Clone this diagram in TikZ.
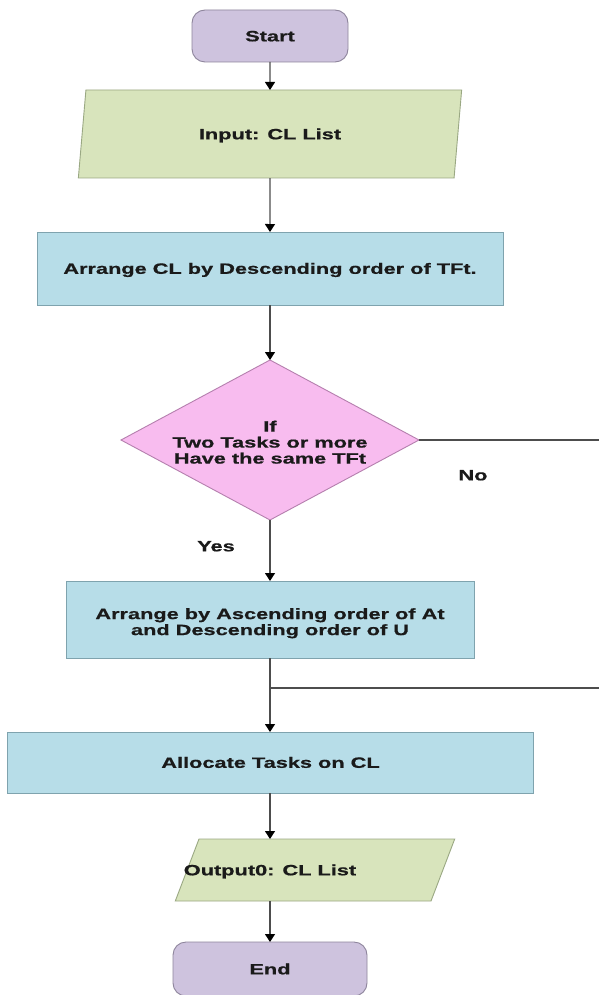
\documentclass[tikz,border=0pt]{standalone}
\usepackage{fontspec}
\setmainfont{Liberation Sans}[BoldFeatures={FakeBold=0.6}]
\usetikzlibrary{shapes.geometric,arrows.meta}

\definecolor{termfill}{HTML}{CEC3DE}
\definecolor{termdraw}{HTML}{8E859C}
\definecolor{iofill}{HTML}{D8E4BC}
\definecolor{iodraw}{HTML}{9AA883}
\definecolor{procfill}{HTML}{B7DDE8}
\definecolor{procdraw}{HTML}{7FA3AE}
\definecolor{decfill}{HTML}{F8BCEF}
\definecolor{decdraw}{HTML}{B57FAE}
\definecolor{wire}{HTML}{4D4D4D}
\definecolor{ink}{HTML}{1A1A1A}

% wide bold lettering, capitals centred on the node
\newcommand{\wtxt}[1]{\raisebox{0pt}[10.7pt][0pt]{\scalebox{1.45}[1]{\bfseries #1}}}
\newcommand{\wlines}[1]{\raisebox{-4.4pt}[\height][\depth]{\scalebox{1.45}[1]{\bfseries\def\arraystretch{1}\begin{tabular}{@{}c@{}}#1\end{tabular}}}}

\tikzset{
  base/.style={inner sep=0pt, outer sep=0pt, line width=0.9pt, text=ink,
    font=\fontsize{15}{16}\selectfont},
  terminal/.style={base, rectangle, rounded corners=13pt, fill=termfill, draw=termdraw},
  iobox/.style={base, trapezium, trapezium stretches=true, fill=iofill, draw=iodraw},
  procbox/.style={base, rectangle, fill=procfill, draw=procdraw},
  decision/.style={base, diamond, aspect=1.86, fill=decfill, draw=decdraw},
  caption/.style={inner sep=0pt, text=ink, font=\fontsize{15}{16}\selectfont},
  flow/.style={draw=wire, line width=1.2pt, -{Triangle[length=8pt,width=10pt,fill=black,color=black]}},
  wireline/.style={draw=wire, line width=1.1pt},
}

\begin{document}
\begin{tikzpicture}[x=1pt,y=-1pt]
\useasboundingbox (0,0) rectangle (599,995);
\fill[white] (0,0) rectangle (599,995);

\node[terminal, minimum width=156pt, minimum height=52pt] (start) at (270,36) {\wtxt{Start}};

\node[iobox, minimum width=384pt, minimum height=88pt,
      trapezium left angle=74.7, trapezium right angle=105.3] (input) at (270,134) {\wtxt{Input: CL List}};

\node[procbox, minimum width=466pt, minimum height=73pt] (sortcl) at (270,268.5) {\wtxt{Arrange CL by Descending order of TFt.}};

\node[decision, minimum width=298pt, minimum height=160pt] (test) at (270,440) {\wlines{If\\Two Tasks or more\\Have the same TFt}};

\node[procbox, minimum width=408pt, minimum height=77pt] (sortat) at (270,619.5) {\wlines{Arrange by Ascending order of At\\and Descending order of U}};

\node[procbox, minimum width=526pt, minimum height=61pt] (alloc) at (270.5,762.5) {\wtxt{Allocate Tasks on CL}};

\node[iobox, minimum width=280pt, minimum height=62pt,
      trapezium left angle=71.3, trapezium right angle=108.7] (output) at (315,870) {\phantom{Output}};
\node[caption] (outtext) at (270,870) {\wtxt{Output0: CL List}};

\node[terminal, minimum width=194pt, minimum height=54pt] (finish) at (270,969) {\wtxt{End}};

\node[caption] (nolabel) at (473,475) {\wtxt{No}};
\node[caption] (yeslabel) at (216,546) {\wtxt{Yes}};

\coordinate (noend) at (599,440);
\coordinate (join) at (270,688);
\coordinate (joinend) at (599,688);

% connectors
\draw[flow] (start.south) -- (input.north);
\draw[flow] (input.south) -- (sortcl.north);
\draw[flow] (sortcl.south) -- (test.north);
\draw[wireline] (test.east) -- (noend);
\draw[flow] (test.south) -- (sortat.north);
\draw[flow] (sortat.south) -- (sortat.south |- alloc.north);
\draw[wireline] (join) -- (joinend);
\draw[flow] (alloc.south -| outtext) -- (outtext |- output.north);
\draw[flow] (outtext |- output.south) -- (finish.north);
\end{tikzpicture}
\end{document}
